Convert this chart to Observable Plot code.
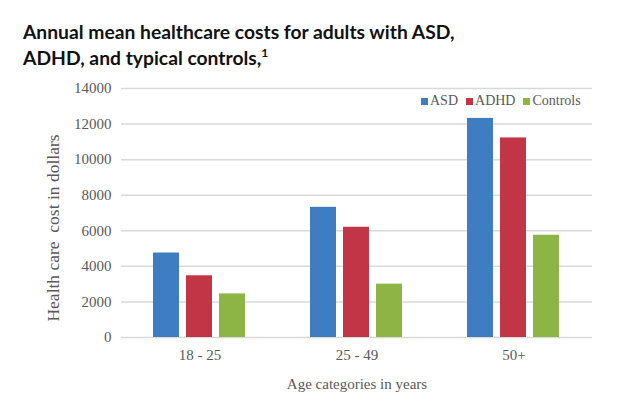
<!DOCTYPE html>
<html><head><meta charset="utf-8">
<script src="https://cdn.jsdelivr.net/npm/d3@7"></script>
<script src="https://cdn.jsdelivr.net/npm/@observablehq/plot@0.6"></script>
<style>
body{margin:0;background:#fff;width:630px;height:404px;overflow:hidden;position:relative}
#title{font-family:Lato,sans-serif;font-weight:700;font-size:19.3px;line-height:25.5px;color:#111;padding:19px 0 0 23px;height:53px;box-sizing:content-box}
#title sup{font-size:12px;line-height:0;vertical-align:8px}
#legend{position:absolute;left:421px;top:93px;display:flex;align-items:center;font-family:"Liberation Serif",serif;font-size:14px;color:#595959;gap:8px}
#legend span.sw{display:inline-block;width:7px;height:7px;margin-right:2px}
#chart svg{display:block;font-family:"Liberation Serif",serif !important}
#chart svg text, #chart svg g{font-family:"Liberation Serif",serif !important}
#chart svg g[aria-label="y-axis label"] text{font-size:17.5px}
</style></head><body>
<div id="title">Annual mean healthcare costs for adults with ASD,<br>ADHD, and typical controls,<sup>1</sup></div>
<div id="chart"></div>
<div id="legend"></div>
<script>
const ages = ["18 - 25", "25 - 49", "50+"];
const series = ["ASD", "ADHD", "Controls"];
const asd = [4750, 7320, 12320];
const adhd = [3470, 6200, 11220];
const controls = [2450, 3000, 5750];
const colors = ["#3e7dc1", "#c13546", "#8cb545"];
const yTicks = [0, 2000, 4000, 6000, 8000, 10000, 12000, 14000];

const cols = [asd, adhd, controls];
const data = ages.flatMap((age, i) => series.map((s, j) => ({age, series: s, value: cols[j][i]})));

const chart = Plot.plot({
  width: 630, height: 332,
  marginTop: 16, marginLeft: 121, marginRight: 38, marginBottom: 67,
  style: {fontFamily: "Liberation Serif", fontSize: "15px", color: "#595959", background: "transparent"},
  fx: {domain: ages, padding: 0, axis: "bottom", tickSize: 0, tickPadding: 12, label: "Age categories in years", labelAnchor: "center", labelOffset: 51, labelArrow: false},
  x: {domain: series, axis: null, paddingInner: 0.2, paddingOuter: 0.91},
  y: {domain: [0, 14000], ticks: yTicks, tickFormat: d => String(d), tickSize: 0, tickPadding: 10, label: "Health care  cost in dollars", labelAnchor: "center", labelOffset: 75, labelArrow: false},
  color: {domain: series, range: colors},
  marks: [
    Plot.ruleY(yTicks, {stroke: "#d9d9d9", strokeWidth: 1.5}),
    Plot.barY(data, {fx: "age", x: "series", y: "value", fill: "series"})
  ]
});
d3.select(chart).selectAll('g[aria-label="y-axis label"] text').attr("dx", "-15");
document.getElementById("chart").appendChild(chart);

const lg = document.getElementById("legend");
series.forEach((s, i) => {
  const it = document.createElement("div");
  it.style.display = "flex"; it.style.alignItems = "center";
  it.innerHTML = `<span class="sw" style="background:${colors[i]}"></span><span>${s}</span>`;
  lg.appendChild(it);
});
</script>
</body></html>
